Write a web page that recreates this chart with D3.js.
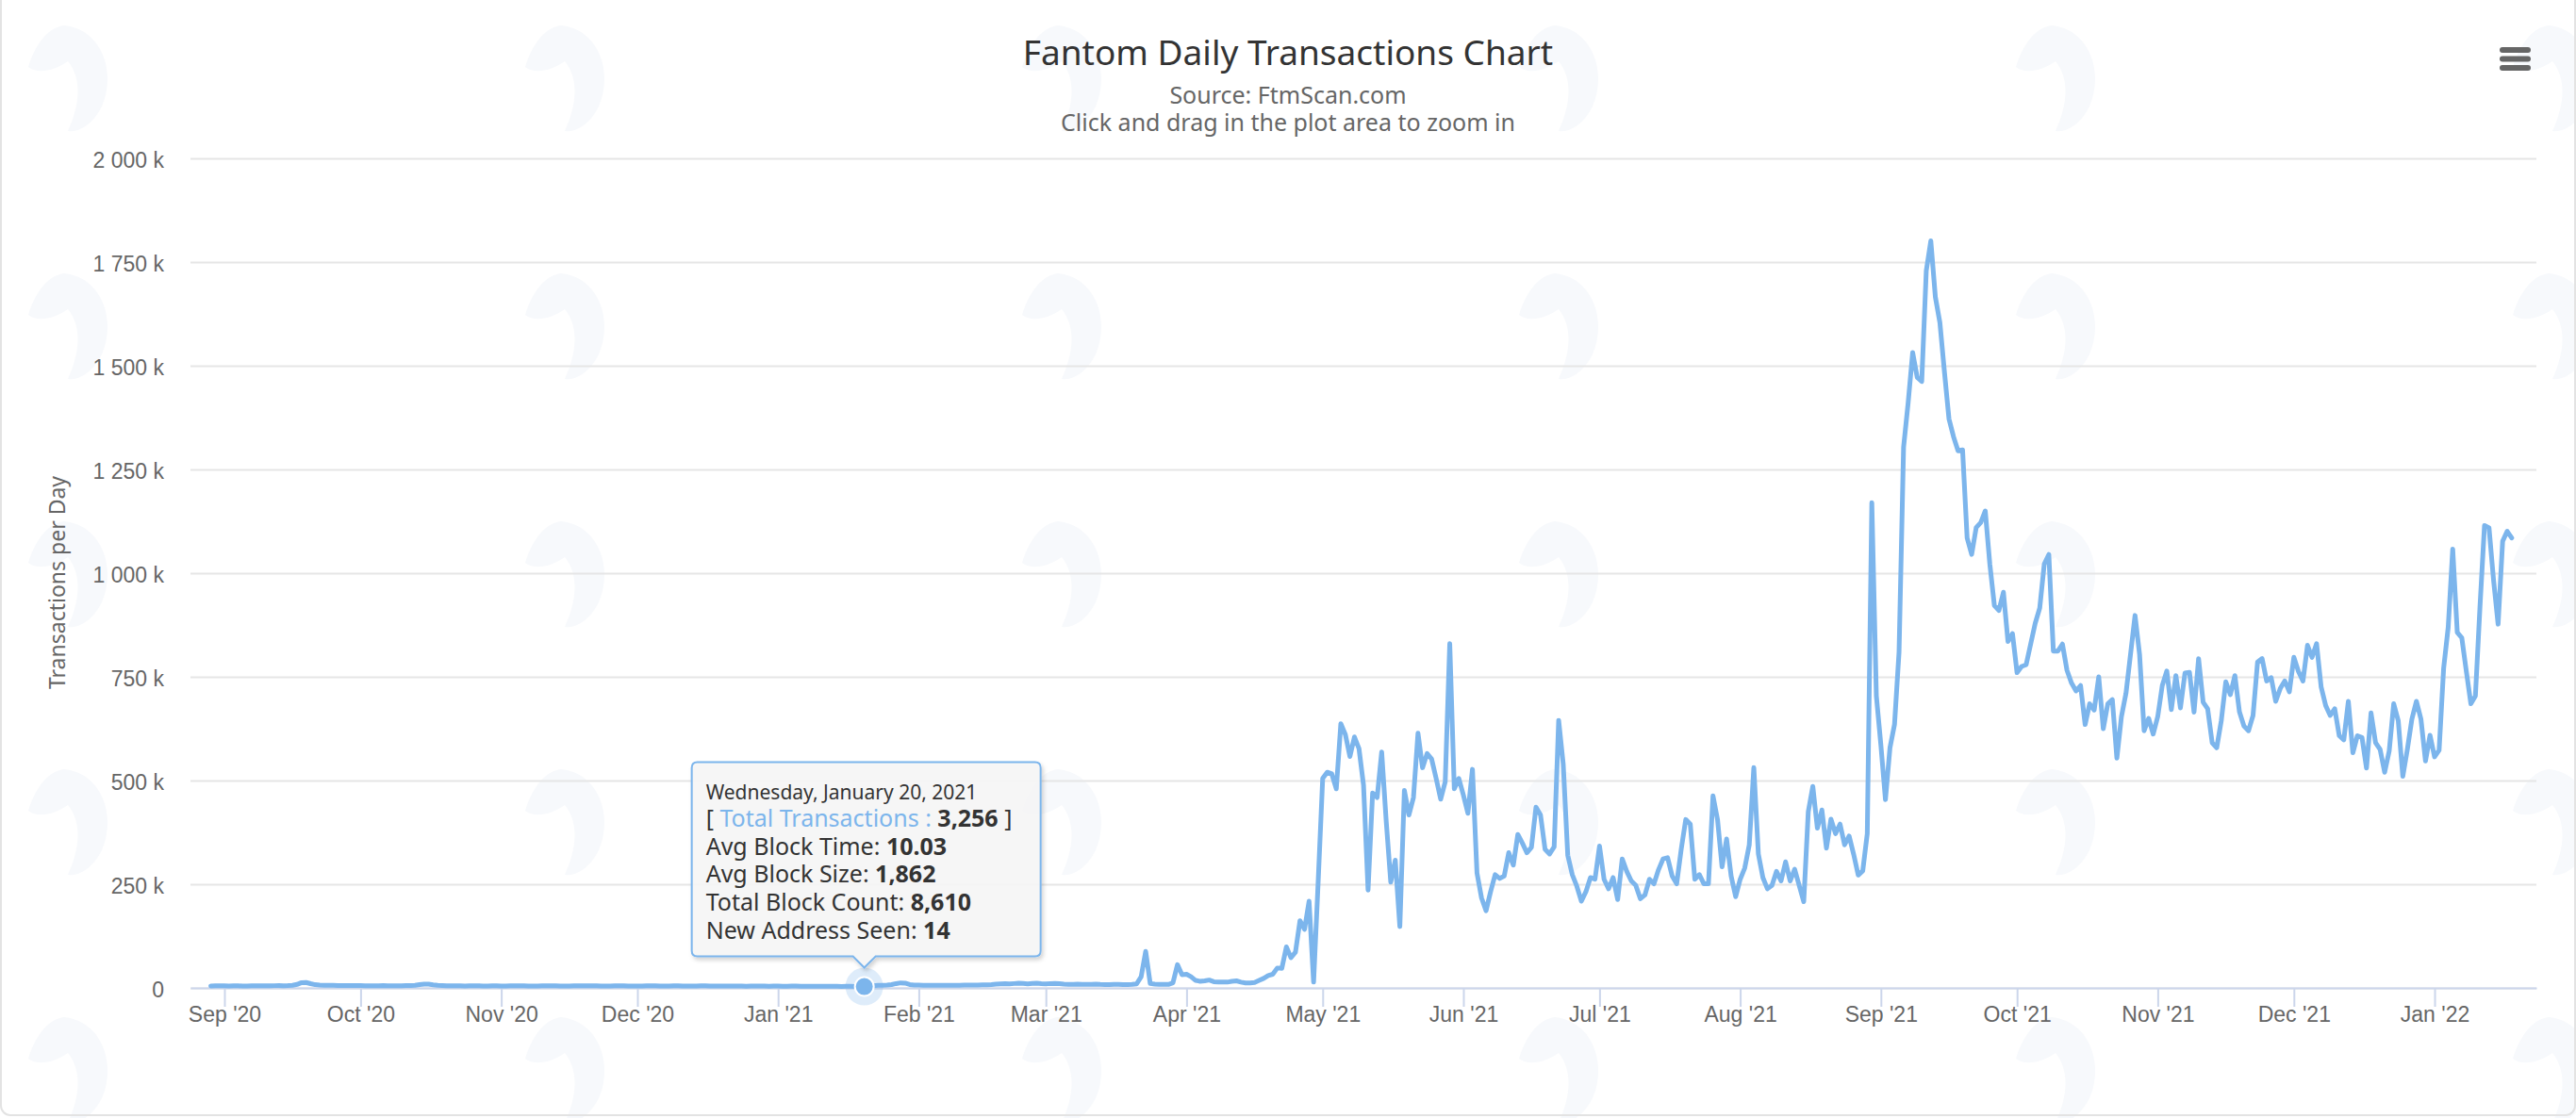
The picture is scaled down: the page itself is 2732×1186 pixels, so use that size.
<!DOCTYPE html>
<html>
<head>
<meta charset="utf-8">
<title>Fantom Daily Transactions Chart</title>
<script src="https://cdn.jsdelivr.net/npm/d3@7"></script>
<style>
  html, body { margin: 0; padding: 0; background: #fff; overflow: hidden; }
  svg { display: block; font-family: "Noto Sans", "DejaVu Sans", Arial, sans-serif; }
</style>
</head>
<body>
<svg id="chart"></svg>
<script>
// Daily total transactions in thousands, one array per month.
// First value is Aug 29, 2020, every following value is the next day.
const firstDay = "2020-08-29";

const aug2020 = [4.8, 5.1, 4.9];
const sep2020 = [5.0, 4.8, 5.2, 4.9, 4.7, 4.6, 5.0, 5.3, 5.1, 4.9, 5.0, 5.4, 5.6, 5.2, 5.5, 6.1, 8.4, 12.6, 13.1, 10.2,
                 7.8, 6.9, 6.5, 6.2, 6.0, 5.9, 5.7, 5.8, 5.6, 5.5];
const oct2020 = [5.4, 5.3, 5.1, 5.0, 5.2, 5.5, 5.3, 5.1, 5.0, 5.2, 5.4, 5.6, 6.2, 7.9, 9.3, 9.0, 7.4, 6.1, 5.6, 5.3,
                 5.1, 5.0, 4.9, 4.8, 5.0, 5.1, 4.9, 4.8, 4.7, 4.9, 5.0];
const nov2020 = [4.8, 4.7, 4.9, 5.0, 5.1, 4.9, 4.7, 4.6, 4.8, 5.0, 5.2, 5.1, 4.9, 4.8, 4.7, 4.8, 5.0, 5.1, 5.3, 5.2,
                 5.0, 4.9, 4.7, 4.6, 4.8, 5.0, 5.1, 4.9, 4.8, 4.7];
const dec2020 = [4.6, 4.8, 5.0, 5.1, 4.9, 4.7, 4.6, 4.8, 4.9, 5.0, 4.8, 4.6, 4.5, 4.7, 4.9, 5.0, 4.8, 4.6, 4.5, 4.4,
                 4.6, 4.7, 4.5, 4.3, 4.2, 4.4, 4.6, 4.5, 4.3, 4.2, 4.4];
const jan2021 = [4.3, 4.1, 4.2, 4.4, 4.3, 4.1, 4.0, 4.2, 4.1, 3.9, 3.8, 4.0, 3.9, 3.7, 3.6, 3.8, 3.7, 3.5, 3.4, 3.256,
                 4.1, 5.2, 6.0, 6.3, 6.8, 7.9, 10.4, 12.2, 11.6, 8.1, 6.9];
const feb2021 = [6.6, 6.4, 6.2, 6.3, 6.5, 6.4, 6.2, 6.1, 6.3, 6.5, 6.6, 6.8, 6.7, 6.9, 7.2, 7.5, 8.1, 9.0, 9.6, 10.3,
                 9.8, 10.5, 11.2, 10.6, 9.9, 10.8, 11.4, 10.2];
const mar2021 = [9.7, 10.5, 11.0, 10.1, 9.2, 8.6, 8.8, 9.0, 8.5, 8.3, 8.6, 8.9, 8.4, 8.2, 8.0, 8.3, 8.5, 8.1, 8.0, 8.4,
                 9.6, 27, 88, 10.5, 9.2, 8.8, 8.6, 8.4, 12, 56, 32];
const apr2021 = [33, 27, 18, 16, 17, 19, 15, 14, 14, 14, 16, 17, 14, 12, 12, 13, 18, 23, 30, 33,
                 48, 47, 99, 73, 86, 162, 141, 209, 14, 255];
const may2021 = [505, 520, 516, 480, 637, 611, 558, 605, 577, 489, 236, 470, 459, 569, 402, 255, 308, 148, 476, 417,
                 459, 614, 531, 565, 552, 505, 455, 497, 830, 480, 505];
const jun2021 = [465, 421, 527, 277, 217, 186, 232, 273, 264, 270, 326, 296, 370, 349, 326, 339, 436, 417, 334, 323,
                 340, 645, 540, 320, 273, 245, 209, 232, 266, 262];
const jul2021 = [342, 262, 239, 266, 213, 311, 281, 258, 247, 215, 224, 262, 251, 285, 311, 314, 270, 251, 334, 406,
                 395, 262, 273, 251, 251, 463, 406, 292, 359, 270, 220];
const aug2021 = [262, 289, 345, 531, 323, 266, 239, 247, 281, 258, 304, 258, 286, 247, 208, 425, 486, 385, 429, 337,
                 407, 372, 395, 345, 366, 322, 272, 282, 372, 1170, 704];
const sep2021 = [585, 454, 579, 635, 810, 1304, 1410, 1532, 1472, 1462, 1729, 1801, 1666, 1604, 1485, 1372, 1329, 1295, 1297, 1085,
                 1045, 1110, 1122, 1150, 1022, 922, 910, 954, 835, 854];
const oct2021 = [760, 775, 779, 829, 879, 916, 1022, 1045, 812, 812, 829, 766, 735, 716, 729, 635, 685, 670, 750, 625,
                 685, 695, 554, 654, 710, 804, 898, 804, 620, 650, 612];
const nov2021 = [654, 729, 764, 671, 753, 675, 759, 761, 665, 794, 689, 673, 591, 579, 644, 738, 707, 753, 666, 631,
                 620, 657, 786, 794, 740, 748, 691, 722, 740, 714];
const dec2021 = [797, 763, 740, 826, 797, 830, 726, 681, 657, 673, 608, 598, 691, 567, 608, 604, 530, 663, 591, 575,
                 520, 571, 685, 644, 510, 575, 648, 691, 648, 547, 609];
const jan2022 = [557, 573, 771, 869, 1058, 857, 844, 763, 685, 704, 918, 1115, 1109, 983, 877, 1077, 1101, 1085];

const months = [aug2020, sep2020, oct2020, nov2020, dec2020, jan2021, feb2021, mar2021, apr2021,
                may2021, jun2021, jul2021, aug2021, sep2021, oct2021, nov2021, dec2021, jan2022];

// axis extent and ticks
const xExtent = ["2020-08-24T12:30:00Z", "2022-01-23T10:30:00Z"];
const xTickFrom = "2020-09-01", xTickTo = "2022-02-01";
const yTicks = [0, 250000, 500000, 750000, 1000000, 1250000, 1500000, 1750000, 2000000];

// texts
const chartTitle = "Fantom Daily Transactions Chart";
const subtitleLines = ["Source: FtmScan.com", "Click and drag in the plot area to zoom in"];
const yTitle = "Transactions per Day";

// hovered point shown in the tooltip
const tipDay = "2021-01-20";
const tipHeader = "Wednesday, January 20, 2021";
const tipSeries = "Total Transactions";
const tipRows = [
    ["Avg Block Time: ", "10.03"],
    ["Avg Block Size: ", "1,862"],
    ["Total Block Count: ", "8,610"],
    ["New Address Seen: ", "14"]
];

var visualize = function () {
    var W = 2732, H = 1186;
    var margin = { top: 168, right: 42, bottom: 138, left: 202 };
    var lineColor = "#7cb5ec";

    var svg = d3.select("#chart").attr("width", W).attr("height", H);

    var parse = d3.utcParse("%Y-%m-%d");
    var start = parse(firstDay);
    var data = d3.merge(months).map(function (v, i) {
        return { date: d3.utcDay.offset(start, i), value: v * 1000 };
    });

    var x = d3.scaleUtc()
        .domain(xExtent.map(function (s) { return new Date(s); }))
        .range([margin.left, W - margin.right]);
    var y = d3.scaleLinear()
        .domain([0, 2000000])
        .range([H - margin.bottom, margin.top]);

    // very faint watermark logos in the background
    var marks = svg.append("g").attr("fill", "#f7f9fc");
    d3.range(6).forEach(function (c) {
        d3.range(5).forEach(function (r) {
            marks.append("path")
                .attr("transform", "translate(" + (74 + c * 527) + "," + (83 + r * 263) + ")")
                .attr("d", "M-6,-56 C34,-52 50,-6 34,30 C24,50 8,58 -2,56 C10,30 14,2 -2,-18 C-16,-8 -34,-4 -44,-12 C-36,-38 -22,-54 -6,-56 Z");
        });
    });

    // frame
    svg.append("rect")
        .attr("x", 1).attr("y", -20).attr("width", W - 2).attr("height", H + 17)
        .attr("rx", 10)
        .attr("fill", "none").attr("stroke", "#e3e3e3").attr("stroke-width", 2);

    // y grid + labels
    var yFormat = function (v) {
        return v === 0 ? "0" : d3.format(",")(v / 1000).replace(/,/g, " ") + " k";
    };
    var yAxis = svg.append("g")
        .attr("transform", "translate(" + margin.left + ",0)")
        .call(d3.axisLeft(y)
            .tickValues(yTicks)
            .tickSize(-(W - margin.left - margin.right))
            .tickPadding(28)
            .tickFormat(yFormat));
    yAxis.select(".domain").remove();
    yAxis.selectAll("line").attr("stroke", "#e6e6e6").attr("stroke-width", 2);
    yAxis.selectAll("text")
        .attr("fill", "#666").attr("font-size", "23px").attr("dy", "0.43em")
        .style("font-family", "inherit");

    // x axis
    var xTicks = d3.utcMonth.range(parse(xTickFrom), parse(xTickTo));
    var xAxis = svg.append("g")
        .attr("transform", "translate(0," + y(0) + ")")
        .call(d3.axisBottom(x)
            .tickValues(xTicks)
            .tickSize(20)
            .tickSizeOuter(0)
            .tickPadding(0)
            .tickFormat(d3.utcFormat("%b '%y")));
    xAxis.select(".domain").attr("stroke", "#ccd6eb").attr("stroke-width", 2);
    xAxis.selectAll("line").attr("stroke", "#ccd6eb").attr("stroke-width", 2);
    xAxis.selectAll("text")
        .attr("fill", "#666").attr("font-size", "23px")
        .style("font-family", "inherit");

    // y axis title
    svg.append("text")
        .attr("transform", "translate(69,618) rotate(-90)")
        .attr("text-anchor", "middle")
        .attr("fill", "#666")
        .attr("font-size", "23px")
        .text(yTitle);

    // title and subtitles
    svg.append("text")
        .attr("x", W / 2).attr("y", 69)
        .attr("text-anchor", "middle")
        .attr("fill", "#333")
        .attr("font-size", "37px")
        .text(chartTitle);
    svg.selectAll(".subtitle")
        .data(subtitleLines)
        .enter()
        .append("text")
        .attr("class", "subtitle")
        .attr("x", W / 2)
        .attr("y", function (d, i) { return 110 + i * 29; })
        .attr("text-anchor", "middle")
        .attr("fill", "#666")
        .attr("font-size", "25px")
        .text(function (d) { return d; });

    // hamburger menu button
    svg.append("g")
        .attr("stroke", "#666").attr("stroke-width", 6).attr("stroke-linecap", "round")
        .selectAll("line")
        .data([53, 62.5, 72])
        .enter()
        .append("line")
        .attr("x1", 2654).attr("x2", 2681)
        .attr("y1", function (d) { return d; })
        .attr("y2", function (d) { return d; });

    // the series line
    var line = d3.line()
        .x(function (d) { return x(d.date); })
        .y(function (d) { return y(d.value); });
    svg.append("path")
        .datum(data)
        .attr("fill", "none")
        .attr("stroke", lineColor)
        .attr("stroke-width", 5)
        .attr("stroke-linejoin", "round")
        .attr("stroke-linecap", "round")
        .attr("d", line);

    // hovered point
    var tipDate = parse(tipDay);
    var hovered = data.find(function (d) { return +d.date === +tipDate; });
    var px = x(hovered.date), py = y(hovered.value);
    svg.append("circle")
        .attr("cx", px).attr("cy", py).attr("r", 20)
        .attr("fill", lineColor).attr("opacity", 0.25);
    svg.append("circle")
        .attr("cx", px).attr("cy", py).attr("r", 10)
        .attr("fill", lineColor).attr("stroke", "#fff").attr("stroke-width", 2);

    // tooltip
    var defs = svg.append("defs");
    var shadow = defs.append("filter").attr("id", "tipShadow")
        .attr("x", "-10%").attr("y", "-10%").attr("width", "120%").attr("height", "130%");
    shadow.append("feDropShadow")
        .attr("dx", 2).attr("dy", 3).attr("stdDeviation", 2)
        .attr("flood-color", "#000").attr("flood-opacity", 0.18);

    var boxW = 370, boxH = 206, r = 6, anchor = 183, arrow = 12;
    var tip = svg.append("g")
        .attr("transform", "translate(" + (px - anchor) + "," + (py - 32 - boxH) + ")");
    tip.append("path")
        .attr("d",
            "M" + r + ",0 H" + (boxW - r) + " Q" + boxW + ",0 " + boxW + "," + r +
            " V" + (boxH - r) + " Q" + boxW + "," + boxH + " " + (boxW - r) + "," + boxH +
            " H" + (anchor + arrow) + " L" + anchor + "," + (boxH + arrow) + " L" + (anchor - arrow) + "," + boxH +
            " H" + r + " Q0," + boxH + " 0," + (boxH - r) + " V" + r + " Q0,0 " + r + ",0 Z")
        .attr("fill", "rgba(247,247,247,0.9)")
        .attr("stroke", lineColor)
        .attr("stroke-width", 2)
        .attr("filter", "url(#tipShadow)");

    tip.append("text")
        .attr("x", 15).attr("y", 39)
        .attr("fill", "#333").attr("font-size", "21px")
        .text(tipHeader);

    var seriesRow = tip.append("text")
        .attr("x", 15).attr("y", 68)
        .attr("fill", "#333").attr("font-size", "25px");
    seriesRow.append("tspan").text("[ ");
    seriesRow.append("tspan").attr("fill", lineColor).text(tipSeries + " : ");
    seriesRow.append("tspan").attr("font-weight", "bold").text(d3.format(",")(hovered.value));
    seriesRow.append("tspan").text(" ]");

    var rows = tip.selectAll(".tip-row")
        .data(tipRows)
        .enter()
        .append("text")
        .attr("class", "tip-row")
        .attr("x", 15)
        .attr("y", function (d, i) { return 98 + i * 29.8; })
        .attr("fill", "#333").attr("font-size", "25px");
    rows.append("tspan").text(function (d) { return d[0]; });
    rows.append("tspan").attr("font-weight", "bold").text(function (d) { return d[1]; });
};

visualize();
</script>
</body>
</html>
